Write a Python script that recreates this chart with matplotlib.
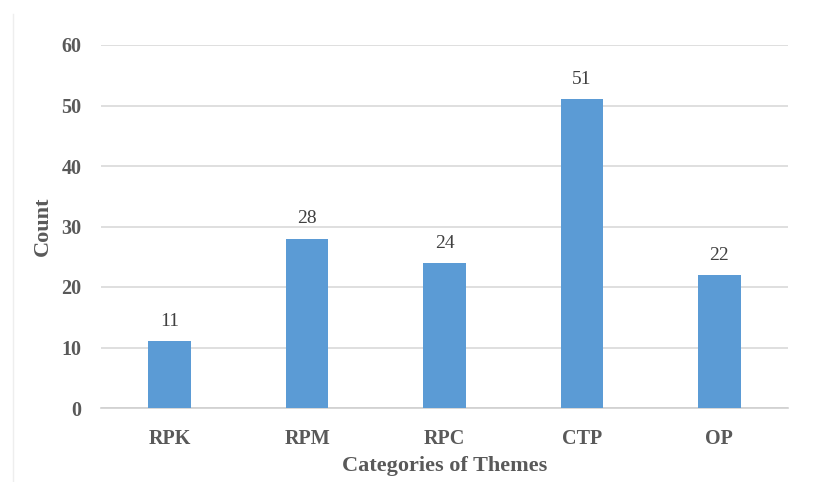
import matplotlib
matplotlib.use("Agg")
import matplotlib.pyplot as plt
from matplotlib.lines import Line2D

categories = ["RPK", "RPM", "RPC", "CTP", "OP"]
counts = [11, 28, 24, 51, 22]
yticks = [0, 10, 20, 30, 40, 50, 60]

plt.rcParams['font.family'] = ['Liberation Serif', 'DejaVu Serif']

fig = plt.figure(figsize=(8.16, 4.82), dpi=100)
ax = fig.add_axes([101/816, 1-408/482, (788-101)/816, (408-45)/482])

x = list(range(len(categories)))
bars = ax.bar(x, counts, width=0.31, color="#5B9BD5", zorder=3)
ax.set_xlim(-0.5, len(categories)-0.5)
ax.set_ylim(0, 60)
ax.set_yticks(yticks)
ax.set_xticks(x)
ax.set_xticklabels(categories)

for b, v in zip(bars, counts):
    ax.annotate(str(v), (b.get_x()+b.get_width()/2, v), xytext=(0, 8),
                textcoords="offset points", ha="center", va="bottom",
                fontsize=14, color="#404040")

ax.grid(axis="y", color="#D9D9D9", linewidth=1.2, zorder=0)
for s in ["top", "right", "left"]:
    ax.spines[s].set_visible(False)
ax.spines["bottom"].set_color("#D0D0D0")
ax.spines["bottom"].set_linewidth(1.2)
ax.tick_params(axis="both", length=0, labelsize=14.5, labelcolor="#595959")
ax.tick_params(axis="y", pad=14)
ax.tick_params(axis="x", pad=15)
for lab in ax.get_xticklabels() + ax.get_yticklabels():
    lab.set_fontweight("bold")

ax.set_ylabel("Count", fontsize=16, fontweight="bold", color="#595959", labelpad=6)
ax.set_xlabel("Categories of Themes", fontsize=16, fontweight="bold", color="#595959", labelpad=5)

fig.add_artist(Line2D([13/816, 13/816], [0, 1-14/482], transform=fig.transFigure,
                      color="#EEEEEE", linewidth=1))

fig.savefig("out.png", dpi=100)
